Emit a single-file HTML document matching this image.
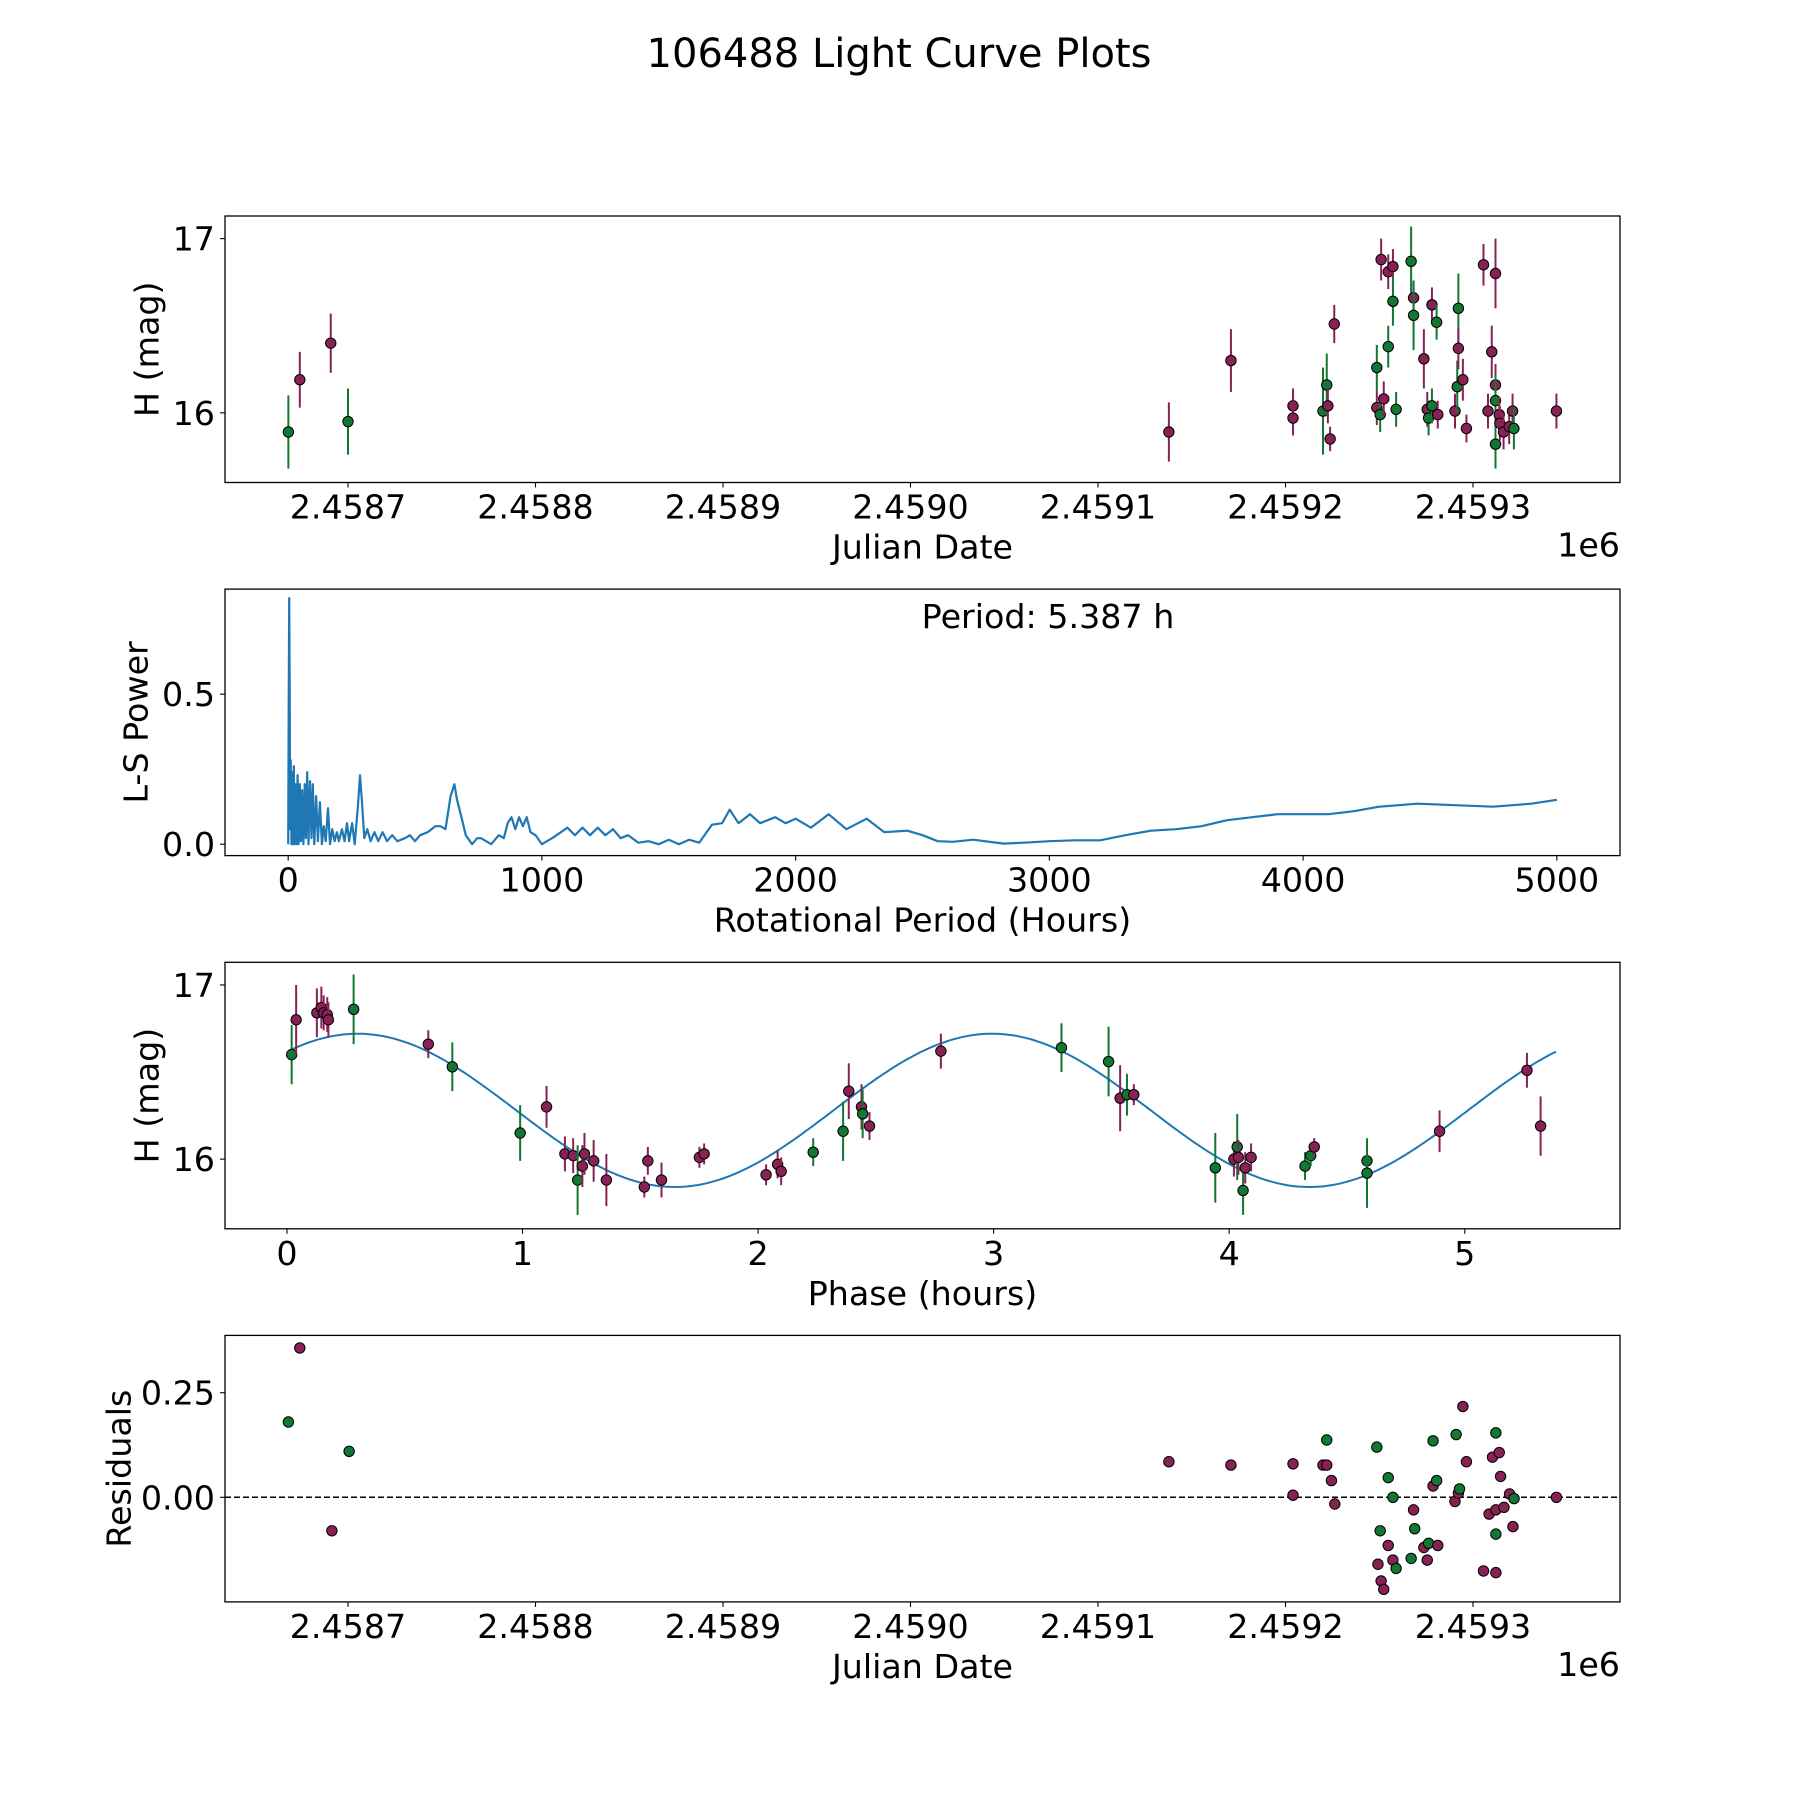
<!DOCTYPE html>
<html><head><meta charset="utf-8"><style>
html,body{margin:0;padding:0;background:#fff;}
svg{display:block;font-family:"DejaVu Sans","Liberation Sans",sans-serif;}
</style></head><body>
<svg id="fig" width="1800" height="1800" viewBox="0 0 1800 1800" xmlns="http://www.w3.org/2000/svg">
<rect width="1800" height="1800" fill="#fff"/>
<text x="899" y="67" font-size="40" text-anchor="middle">106488 Light Curve Plots</text>
</svg>
<script>
// ---------- data: light curve (days offset from JD 2458700) ----------
const lcDays = [-31.8,-25.7,-9.2,0,437.8,470.9,504,504,520,522,522.6,523.8,526,548.7,548.7,550.5,551,552.4,554.8,554.8,557.3,557.3,559,567,568.3,568.3,573.8,575.6,576.3,578.1,578.1,580.6,581.2,590.4,591.6,592.2,592.2,594.6,596.5,605.6,608,610,612,612,612,612,614,614.3,616.3,619.3,621.1,621.8,644.5];
const lcMag = [15.89,16.19,16.40,15.95,15.89,16.30,16.04,15.97,16.01,16.16,16.04,15.85,16.51,16.26,16.03,15.99,16.88,16.08,16.81,16.38,16.84,16.64,16.02,16.87,16.66,16.56,16.31,16.02,15.97,16.04,16.62,16.52,15.99,16.01,16.15,16.60,16.37,16.19,15.91,16.85,16.01,16.35,16.80,16.16,16.07,15.82,15.99,15.94,15.89,15.92,16.01,15.91,16.01];
const lcErr = [0.21,0.16,0.17,0.19,0.17,0.18,0.1,0.1,0.25,0.18,0.1,0.07,0.11,0.13,0.1,0.1,0.12,0.1,0.1,0.12,0.1,0.14,0.1,0.2,0.1,0.2,0.17,0.1,0.1,0.1,0.1,0.1,0.08,0.1,0.15,0.2,0.12,0.12,0.08,0.12,0.1,0.15,0.2,0.12,0.15,0.14,0.1,0.1,0.1,0.1,0.1,0.12,0.1];
const lcBand = ["g","m","m","g","m","m","m","m","g","g","m","m","m","g","m","g","m","m","m","g","m","g","g","g","m","g","m","m","g","g","m","g","m","m","g","g","m","m","m","m","m","m","m","m","g","g","m","m","m","m","m","g","m"];
// ---------- data: periodogram ----------
const lsPeriod = [0,2,4,6,8,10,13,16,19,22,25,29,33,37,41,46,50,55,60,65,70,75,80,86,92,97,103,110,117,125,133,140,148,157,165,174,183,192,200,212,222,232,240,252,262,275,283,291,300,312,325,340,355,372,390,410,430,460,480,500,520,550,580,600,620,640,655,665,680,700,725,745,760,780,800,830,850,865,880,895,910,925,940,955,975,1000,1040,1075,1100,1130,1160,1190,1220,1250,1280,1310,1340,1380,1420,1460,1500,1540,1580,1620,1670,1710,1740,1775,1820,1860,1920,1960,2000,2060,2130,2200,2280,2350,2440,2500,2560,2620,2700,2820,2900,3000,3100,3200,3300,3400,3500,3600,3700,3800,3900,4000,4100,4200,4300,4450,4600,4750,4900,5000];
const lsPower = [0,0.45,0.82,0.5,0.05,0.28,0.0,0.24,0.0,0.26,0.0,0.2,0.0,0.23,0.0,0.2,0.01,0.18,0.0,0.2,0.02,0.24,0.0,0.21,0.02,0.2,0.0,0.16,0.01,0.14,0.0,0.06,0.01,0.12,0.0,0.05,0.01,0.04,0.01,0.05,0.01,0.07,0.01,0.07,0.0,0.13,0.23,0.14,0.02,0.05,0.01,0.04,0.01,0.04,0.01,0.03,0.01,0.02,0.03,0.01,0.03,0.04,0.06,0.06,0.05,0.16,0.2,0.15,0.1,0.03,0.0,0.02,0.02,0.01,0.0,0.03,0.02,0.07,0.09,0.05,0.09,0.06,0.09,0.04,0.03,0.0,0.02,0.04,0.055,0.03,0.055,0.03,0.055,0.03,0.05,0.02,0.03,0.005,0.01,0.0,0.015,0.0,0.015,0.005,0.065,0.07,0.115,0.07,0.1,0.07,0.09,0.07,0.085,0.055,0.1,0.05,0.085,0.04,0.045,0.03,0.01,0.008,0.015,0.002,0.005,0.01,0.013,0.013,0.03,0.045,0.05,0.06,0.08,0.09,0.1,0.1,0.1,0.11,0.125,0.135,0.13,0.125,0.135,0.148];
const bestPeriod = 5.387;
// ---------- data: phased ----------
const phPhase = [0.020,0.039,0.127,0.146,0.156,0.171,0.176,0.283,0.600,0.702,0.990,1.102,1.180,1.215,1.234,1.254,1.263,1.302,1.356,1.517,1.532,1.590,1.751,1.771,2.034,2.083,2.098,2.234,2.361,2.385,2.439,2.444,2.473,2.776,3.288,3.488,3.537,3.566,3.595,3.941,4.020,4.034,4.039,4.059,4.068,4.093,4.322,4.346,4.361,4.585,4.585,4.893,5.264,5.322];
const phMag = [16.60,16.80,16.84,16.87,16.84,16.83,16.80,16.86,16.66,16.53,16.15,16.30,16.03,16.02,15.88,15.96,16.03,15.99,15.88,15.84,15.99,15.88,16.01,16.03,15.91,15.97,15.93,16.04,16.16,16.39,16.30,16.26,16.19,16.62,16.64,16.56,16.35,16.37,16.37,15.95,16.00,16.07,16.01,15.82,15.95,16.01,15.96,16.02,16.07,15.99,15.92,16.16,16.51,16.19];
const phErr = [0.17,0.2,0.14,0.12,0.1,0.1,0.1,0.2,0.08,0.14,0.16,0.12,0.1,0.1,0.2,0.12,0.12,0.12,0.15,0.06,0.08,0.1,0.06,0.06,0.06,0.08,0.08,0.08,0.17,0.16,0.13,0.14,0.08,0.1,0.14,0.2,0.19,0.12,0.06,0.2,0.1,0.19,0.1,0.14,0.09,0.08,0.08,0.06,0.05,0.1,0.2,0.12,0.1,0.17];
const phBand = ["g","m","m","m","m","m","m","g","m","g","g","m","m","m","g","m","m","m","m","m","m","m","m","m","m","m","m","g","g","m","m","g","m","m","g","g","m","g","m","g","m","g","m","g","m","m","g","g","m","g","g","m","m","m"];
const fitMean = 16.28, fitAmp = 0.44, fitPeak = 0.3;
// ---------- data: residuals ----------
const resDays = [-31.8,-25.7,-8.6,0.6,437.8,470.9,504,504,522,520,522,524.5,526.3,548.7,550.5,549.3,551,552.4,554.8,554.8,557.3,557.3,559,568.3,568.9,567,573.8,575.6,576.3,578.7,578.7,580.6,581.2,590.4,591,592.2,592.8,594.6,596.5,605.6,608.6,610.4,612.2,612.2,612.2,612.2,614,614.7,616.5,619.5,621.3,621.9,644.5];
const resVal = [0.18,0.357,-0.08,0.11,0.085,0.077,0.08,0.005,0.137,0.077,0.077,0.04,-0.016,0.12,-0.08,-0.16,-0.2,-0.22,-0.115,0.047,0,-0.15,-0.17,-0.03,-0.075,-0.146,-0.12,-0.15,-0.11,0.135,0.027,0.04,-0.115,-0.01,0.15,0.01,0.02,0.217,0.085,-0.176,-0.04,0.096,0.154,-0.088,-0.18,-0.03,0.107,0.05,-0.024,0.008,-0.07,-0.003,0];
const resBand = ["g","m","m","g","m","m","m","m","g","m","m","m","m","g","g","m","m","m","m","g","g","m","g","m","g","g","m","m","g","g","m","g","m","m","g","m","g","m","m","m","m","m","g","g","m","m","m","m","m","m","m","g","m"];
const jdTicks = ["2.4587","2.4588","2.4589","2.4590","2.4591","2.4592","2.4593"];
const lsXTicks = [0,1000,2000,3000,4000,5000];
const lsYTicks = ["0.0","0.5"];
const phXTicks = [0,1,2,3,4,5];
const magTicks = [16,17];
const resTicks = ["0.00","0.25"];

const NS="http://www.w3.org/2000/svg";
const svg=document.getElementById('fig');
const COL={g:"#117733",m:"#882255"};
const FS=33.3, MR=5.2;
function mk(tag,attrs,parent){const e=document.createElementNS(NS,tag);for(const k in attrs)e.setAttribute(k,attrs[k]);(parent||svg).appendChild(e);return e;}
const L=225,R=1620,H=266.5;
const tops=[216,589.1,962.3,1335.4];
function lin(d0,d1,p0,p1){return v=>p0+(v-d0)*(p1-p0)/(d1-d0);}
const jdX=lin(-65.6,678.4,L,R);
const magY=i=>lin(15.6,17.13,tops[i]+H,tops[i]);
function frame(i,name){
  const g=mk('g',{});
  
  
  return g;
}
function border(g,i){const r=mk('rect',{x:L,y:tops[i],width:R-L,height:H,fill:'none',stroke:'#000','stroke-width':1.3},g);}
function xtick(g,i,px,label){
  const b=tops[i]+H;
  mk('line',{x1:px,x2:px,y1:b,y2:b+5,stroke:'#000','stroke-width':1.1},g);
  const t=mk('text',{x:px,y:b+36,'font-size':FS,'text-anchor':'middle'},g);t.textContent=label;
  
  
}
function ytick(g,i,py,label){
  mk('line',{x1:L-5,x2:L,y1:py,y2:py,stroke:'#000','stroke-width':1.1},g);
  const t=mk('text',{x:L-10,y:py+12,'font-size':FS,'text-anchor':'end'},g);t.textContent=label;
  
  
}
function labels(g,i,xl,yl,yx,offset){
  const b=tops[i]+H;
  const t=mk('text',{x:(L+R)/2,y:b+76,'font-size':FS,'text-anchor':'middle'},g);t.textContent=xl;
  
  
  const cy=tops[i]+H/2;
  const y=mk('text',{x:yx,y:cy,'font-size':FS,'text-anchor':'middle','dominant-baseline':'central',transform:`rotate(-90 ${yx} ${cy})`},g);y.textContent=yl;
  
  
  if(offset){const o=mk('text',{x:R,y:b+74,'font-size':FS,'text-anchor':'end'},g);o.textContent=offset;
  
  }
}
function errPoint(g,x,y,y1,y2,c){
  const l=mk('line',{x1:x,x2:x,y1:y1,y2:y2,stroke:c,'stroke-width':2},g);
  
  
  const p=mk('circle',{cx:x,cy:y,r:MR,fill:c,stroke:'#000','stroke-width':1},g);
  
  
}
// ---- panel 1 ----
{const g=frame(0,'light-curve-panel');const y=magY(0);
 lcDays.forEach((d,k)=>errPoint(g,jdX(d),y(lcMag[k]),y(lcMag[k]-lcErr[k]),y(lcMag[k]+lcErr[k]),COL[lcBand[k]]));
 border(g,0);
 jdTicks.forEach((t,k)=>xtick(g,0,jdX(k*100),t));
 magTicks.forEach(m=>ytick(g,0,y(m),String(m)));
 labels(g,0,'Julian Date','H (mag)',147,'1e6');}
// ---- panel 2 ----
{const g=frame(1,'periodogram-panel');
 const x=lin(-249,5249,L,R), y=lin(-0.038,0.85,tops[1]+H,tops[1]);
 const d=lsPeriod.map((p,k)=>(k?'L':'M')+x(p).toFixed(1)+' '+y(lsPower[k]).toFixed(1)).join(' ');
 const ln=mk('path',{d:d,fill:'none',stroke:'#1f77b4','stroke-width':2.2,'stroke-linejoin':'round'},g);
 
 
 border(g,1);
 lsXTicks.forEach(t=>xtick(g,1,x(t),String(t)));
 lsYTicks.forEach(t=>ytick(g,1,y(parseFloat(t)),t));
 labels(g,1,'Rotational Period (Hours)','L-S Power',136);
 const pt=mk('text',{x:1048,y:628,'font-size':FS,'text-anchor':'middle'},g);pt.textContent='Period: '+bestPeriod+' h';
 
 }
// ---- panel 3 ----
{const g=frame(2,'phase-panel');
 const x=lin(-0.263,5.659,L,R), y=magY(2);
 let d='';
 for(let s=0;s<=300;s++){const p=0.02+(bestPeriod-0.02)*s/300;const m=fitMean+fitAmp*Math.cos(2*Math.PI*(p-fitPeak)/(bestPeriod/2));d+=(s?'L':'M')+x(p).toFixed(1)+' '+y(m).toFixed(1)+' ';}
 const fl=mk('path',{d:d,fill:'none',stroke:'#1f77b4','stroke-width':2},g);
 
 
 phPhase.forEach((p,k)=>errPoint(g,x(p),y(phMag[k]),y(phMag[k]-phErr[k]),y(phMag[k]+phErr[k]),COL[phBand[k]]));
 border(g,2);
 phXTicks.forEach(t=>xtick(g,2,x(t),String(t)));
 magTicks.forEach(m=>ytick(g,2,y(m),String(m)));
 labels(g,2,'Phase (hours)','H (mag)',147);}
// ---- panel 4 ----
{const g=frame(3,'residuals-panel');
 const y=lin(-0.25,0.387,tops[3]+H,tops[3]);
 const zl=mk('line',{x1:L,x2:R,y1:y(0),y2:y(0),stroke:'#000','stroke-width':1.5,'stroke-dasharray':'6 3'},g);
 
 
 resDays.forEach((dd,k)=>{const c=mk('circle',{cx:jdX(dd),cy:y(resVal[k]),r:MR,fill:COL[resBand[k]],stroke:'#000','stroke-width':1},g);
  
  });
 border(g,3);
 jdTicks.forEach((t,k)=>xtick(g,3,jdX(k*100),t));
 resTicks.forEach(t=>ytick(g,3,y(parseFloat(t)),t));
 labels(g,3,'Julian Date','Residuals',119,'1e6');}
</script>
</body></html>
